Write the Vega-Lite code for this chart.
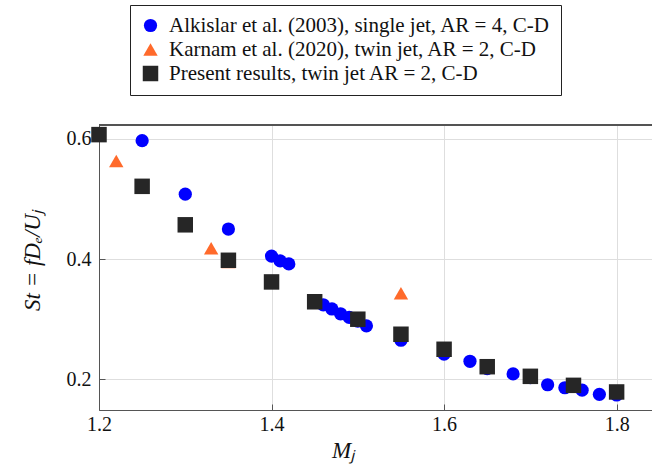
{
  "$schema": "https://vega.github.io/schema/vega-lite/v6.json",
  "width": 553,
  "height": 285,
  "autosize": {"type": "none"},
  "padding": {"left": 99, "top": 125, "right": 0, "bottom": 58},
  "background": "white",
  "config": {
    "font": "Liberation Serif, Times New Roman, serif",
    "view": {"stroke": null},
    "axis": {
      "domainColor": "#555555",
      "tickColor": "#555555",
      "gridColor": "#dedede",
      "labelFont": "Liberation Serif, Times New Roman, serif",
      "labelFontSize": 20,
      "labelColor": "#111111",
      "titleFont": "Liberation Serif, Times New Roman, serif",
      "titleFontWeight": "normal",
      "titleColor": "#111111"
    },
    "legend": {
      "labelFont": "Liberation Serif, Times New Roman, serif"
    }
  },
  "data": {
    "values": [
      {"M": 1.25, "St": 0.597, "src": "Alkislar et al. (2003), single jet, AR = 4, C-D"},
      {"M": 1.30, "St": 0.508, "src": "Alkislar et al. (2003), single jet, AR = 4, C-D"},
      {"M": 1.35, "St": 0.450, "src": "Alkislar et al. (2003), single jet, AR = 4, C-D"},
      {"M": 1.40, "St": 0.405, "src": "Alkislar et al. (2003), single jet, AR = 4, C-D"},
      {"M": 1.41, "St": 0.397, "src": "Alkislar et al. (2003), single jet, AR = 4, C-D"},
      {"M": 1.42, "St": 0.392, "src": "Alkislar et al. (2003), single jet, AR = 4, C-D"},
      {"M": 1.46, "St": 0.324, "src": "Alkislar et al. (2003), single jet, AR = 4, C-D"},
      {"M": 1.47, "St": 0.317, "src": "Alkislar et al. (2003), single jet, AR = 4, C-D"},
      {"M": 1.48, "St": 0.309, "src": "Alkislar et al. (2003), single jet, AR = 4, C-D"},
      {"M": 1.49, "St": 0.303, "src": "Alkislar et al. (2003), single jet, AR = 4, C-D"},
      {"M": 1.50, "St": 0.297, "src": "Alkislar et al. (2003), single jet, AR = 4, C-D"},
      {"M": 1.51, "St": 0.289, "src": "Alkislar et al. (2003), single jet, AR = 4, C-D"},
      {"M": 1.55, "St": 0.265, "src": "Alkislar et al. (2003), single jet, AR = 4, C-D"},
      {"M": 1.60, "St": 0.242, "src": "Alkislar et al. (2003), single jet, AR = 4, C-D"},
      {"M": 1.63, "St": 0.230, "src": "Alkislar et al. (2003), single jet, AR = 4, C-D"},
      {"M": 1.65, "St": 0.218, "src": "Alkislar et al. (2003), single jet, AR = 4, C-D"},
      {"M": 1.68, "St": 0.209, "src": "Alkislar et al. (2003), single jet, AR = 4, C-D"},
      {"M": 1.70, "St": 0.203, "src": "Alkislar et al. (2003), single jet, AR = 4, C-D"},
      {"M": 1.72, "St": 0.191, "src": "Alkislar et al. (2003), single jet, AR = 4, C-D"},
      {"M": 1.74, "St": 0.186, "src": "Alkislar et al. (2003), single jet, AR = 4, C-D"},
      {"M": 1.76, "St": 0.182, "src": "Alkislar et al. (2003), single jet, AR = 4, C-D"},
      {"M": 1.78, "St": 0.175, "src": "Alkislar et al. (2003), single jet, AR = 4, C-D"},
      {"M": 1.80, "St": 0.174, "src": "Alkislar et al. (2003), single jet, AR = 4, C-D"},
      {"M": 1.22, "St": 0.563, "src": "Karnam et al. (2020), twin jet, AR = 2, C-D"},
      {"M": 1.33, "St": 0.418, "src": "Karnam et al. (2020), twin jet, AR = 2, C-D"},
      {"M": 1.35, "St": 0.395, "src": "Karnam et al. (2020), twin jet, AR = 2, C-D"},
      {"M": 1.55, "St": 0.343, "src": "Karnam et al. (2020), twin jet, AR = 2, C-D"},
      {"M": 1.20, "St": 0.607, "src": "Present results, twin jet AR = 2, C-D"},
      {"M": 1.25, "St": 0.521, "src": "Present results, twin jet AR = 2, C-D"},
      {"M": 1.30, "St": 0.457, "src": "Present results, twin jet AR = 2, C-D"},
      {"M": 1.35, "St": 0.398, "src": "Present results, twin jet AR = 2, C-D"},
      {"M": 1.40, "St": 0.362, "src": "Present results, twin jet AR = 2, C-D"},
      {"M": 1.45, "St": 0.329, "src": "Present results, twin jet AR = 2, C-D"},
      {"M": 1.50, "St": 0.300, "src": "Present results, twin jet AR = 2, C-D"},
      {"M": 1.55, "St": 0.275, "src": "Present results, twin jet AR = 2, C-D"},
      {"M": 1.60, "St": 0.250, "src": "Present results, twin jet AR = 2, C-D"},
      {"M": 1.65, "St": 0.221, "src": "Present results, twin jet AR = 2, C-D"},
      {"M": 1.70, "St": 0.205, "src": "Present results, twin jet AR = 2, C-D"},
      {"M": 1.75, "St": 0.190, "src": "Present results, twin jet AR = 2, C-D"},
      {"M": 1.80, "St": 0.179, "src": "Present results, twin jet AR = 2, C-D"}
    ]
  },
  "layer": [
    {
      "mark": {"type": "rule", "color": "#555555", "strokeWidth": 1},
      "encoding": {"y": {"datum": 0.623}}
    },
    {
      "mark": {"type": "point", "filled": true},
      "encoding": {
        "x": {
          "field": "M", "type": "quantitative",
          "scale": {"domain": [1.2, 1.841], "nice": false, "zero": false},
          "axis": {
            "values": [1.2, 1.4, 1.6, 1.8],
            "format": ".1f",
            "labelFlush": false,
            "tickSize": -6,
            "labelPadding": 10,
            "grid": true,
            "title": "Mⱼ",
            "titleFontStyle": "italic",
            "titleFontSize": 23,
            "titleX": 244,
            "titleY": 47,
            "titleBaseline": "alphabetic",
            "titleAlign": "center"
          }
        },
        "y": {
          "field": "St", "type": "quantitative",
          "scale": {"domain": [0.149, 0.623], "nice": false, "zero": false},
          "axis": {
            "values": [0.2, 0.4, 0.6],
            "format": ".1f",
            "labelFlush": false,
            "tickSize": -6,
            "labelPadding": 14,
            "grid": true,
            "title": "St = fDₑ/Uⱼ",
            "titleFontStyle": "italic",
            "titleFontSize": 23,
            "titleAngle": -90,
            "titleX": -67,
            "titleY": 135,
            "titleBaseline": "middle",
            "titleAlign": "center"
          }
        },
        "opacity": {"value": 1},
        "color": {
          "field": "src", "type": "nominal",
          "scale": {
            "domain": ["Alkislar et al. (2003), single jet, AR = 4, C-D", "Karnam et al. (2020), twin jet, AR = 2, C-D", "Present results, twin jet AR = 2, C-D"],
            "range": ["#0000ff", "#ff6a2b", "#262626"]
          },
          "legend": {
            "title": null,
            "orient": "none",
            "legendX": 31,
            "legendY": -120,
            "strokeColor": "#222222",
            "fillColor": "white",
            "padding": 10,
            "labelFontSize": 21,
            "labelColor": "#111111",
            "labelLimit": 600,
            "symbolSize": 170,
            "symbolOpacity": 1,
            "rowPadding": 2,
            "labelOffset": 8
          }
        },
        "shape": {
          "field": "src", "type": "nominal",
          "scale": {
            "domain": ["Alkislar et al. (2003), single jet, AR = 4, C-D", "Karnam et al. (2020), twin jet, AR = 2, C-D", "Present results, twin jet AR = 2, C-D"],
            "range": ["circle", "triangle-up", "square"]
          }
        },
        "size": {
          "field": "src", "type": "nominal",
          "scale": {
            "domain": ["Alkislar et al. (2003), single jet, AR = 4, C-D", "Karnam et al. (2020), twin jet, AR = 2, C-D", "Present results, twin jet AR = 2, C-D"],
            "range": [175, 240, 150]
          },
          "legend": null
        }
      }
    }
  ]
}
